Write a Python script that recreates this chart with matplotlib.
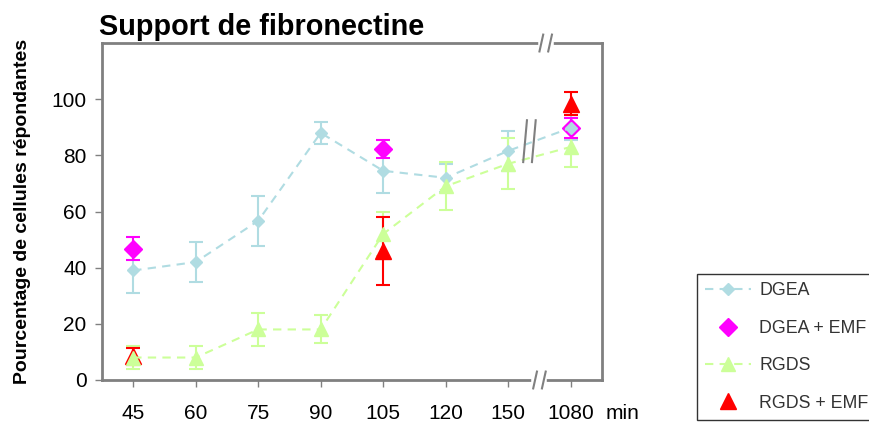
import matplotlib
matplotlib.use('Agg')
import matplotlib.pyplot as plt
import numpy as np

# data (times in minutes, % responding cells)
times = ['45', '60', '75', '90', '105', '120', '150', '1080']
dgea = [39, 42, 56.7, 88, 74.5, 72, 81.6, 89.8]
dgea_err = [8, 7, 9, 4, 8, 5, 7, 4.5]
rgds = [8, 8, 18, 18, 52, 69, 77, 83]
rgds_err = [4, 4, 6, 5, 8, 8.5, 9, 7]
dgea_emf_t = ['45', '105', '1080']
dgea_emf = [46.8, 82.4, 89.6]
dgea_emf_err = [4, 3.2, 3.6]
rgds_emf_t = ['45', '105', '1080']
rgds_emf = [8.5, 46, 98.4]
rgds_emf_err = [3, 12.2, 4]

c_blue = '#B0DCE2'
c_green = '#CCFF99'
c_mag = '#FF00FF'
c_red = '#FF0000'
grey = '#808080'

plt.rcParams['font.family'] = ['Liberation Sans', 'DejaVu Sans']

fig = plt.figure(figsize=(8.7, 4.26), dpi=100, facecolor='w')
ax = fig.add_axes([0.1172, 0.108, 0.5747, 0.791])

x = np.arange(len(times))
pos = {t: i for i, t in enumerate(times)}
xe_d = [pos[t] for t in dgea_emf_t]
xe_r = [pos[t] for t in rgds_emf_t]

# error bars
ax.errorbar(x, dgea, yerr=dgea_err, fmt='none', ecolor=c_blue, elinewidth=1.5, capsize=5, capthick=1.5, zorder=2)
ax.errorbar(x, rgds, yerr=rgds_err, fmt='none', ecolor=c_green, elinewidth=1.5, capsize=5, capthick=1.5, zorder=2)
ax.errorbar(xe_d, dgea_emf, yerr=dgea_emf_err, fmt='none', ecolor=c_mag, elinewidth=1.5, capsize=5, capthick=1.5, zorder=3)
ax.errorbar(xe_r, rgds_emf, yerr=rgds_emf_err, fmt='none', ecolor=c_red, elinewidth=1.5, capsize=5, capthick=1.5, zorder=3)

# markers / lines
ax.plot(xe_d, dgea_emf, linestyle='none', marker='D', ms=9, color=c_mag, label='DGEA + EMF', zorder=4)
ax.plot(x, dgea, linestyle=(0, (4, 3)), lw=1.5, marker='D', ms=6.5, color=c_blue, label='DGEA', zorder=5)
ax.plot(xe_r, rgds_emf, linestyle='none', marker='^', ms=12, color=c_red, label='RGDS + EMF', zorder=4)
ax.plot(x, rgds, linestyle=(0, (4, 3)), lw=1.5, marker='^', ms=10, color=c_green, label='RGDS', zorder=5)

ax.set_xlim(-0.5, 7.5)
ax.set_ylim(0, 120)
ax.set_yticks([0, 20, 40, 60, 80, 100])
ax.set_xticks(x)
ax.set_xticklabels(times)
ax.tick_params(axis='both', colors=grey, labelcolor='black', labelsize=15, length=5, width=1)
ax.tick_params(axis='x', pad=12)
ax.tick_params(axis='y', pad=6)
for s in ax.spines.values():
    s.set_color(grey)
    s.set_linewidth(2)

ax.set_ylabel('Pourcentage de cellules répondantes', fontsize=14, fontweight='bold', labelpad=15)
ax.set_title('Support de fibronectine', fontsize=20.8, fontweight='bold', loc='left', x=-0.005, pad=6)
ax.annotate('min', xy=(1.0, 0), xycoords='axes fraction', xytext=(15, -24), textcoords='offset points',
            ha='center', va='center', fontsize=15)

# axis breaks between 150 and 1080
bx = 6.5
for yb, dx in [(0, 0.0), (1, 0.1)]:
    ax.plot([bx + dx - 0.08, bx + dx + 0.08], [yb, yb], transform=ax.get_xaxis_transform(),
            color='white', lw=4, clip_on=False, zorder=6)
    for off in (-0.07, 0.07):
        ax.plot([bx + dx + off - 0.03, bx + dx + off + 0.03], [yb - 0.025, yb + 0.025],
                transform=ax.get_xaxis_transform(), color=grey, lw=1.5, clip_on=False, zorder=7)
for off in (-0.07, 0.07):
    ax.plot([6.27 + off + 0.1, 6.27 + off + 0.04], [92.5, 77.6], color=grey, lw=1.5, zorder=6)

handles, labels = ax.get_legend_handles_labels()
order = ['DGEA', 'DGEA + EMF', 'RGDS', 'RGDS + EMF']
hmap = dict(zip(labels, handles))
leg = fig.legend([hmap[k] for k in order], order, loc='lower left', bbox_to_anchor=(0.801, 0.014),
                 borderaxespad=0, fontsize=12.8, frameon=True, fancybox=False, edgecolor='black',
                 labelspacing=1.15, handlelength=2.6, handletextpad=0.45, borderpad=0.47)
leg.get_frame().set_linewidth(1.0)
for t in leg.get_texts():
    t.set_color('#333333')

plt.savefig('out.png', dpi=100)
plt.close()
